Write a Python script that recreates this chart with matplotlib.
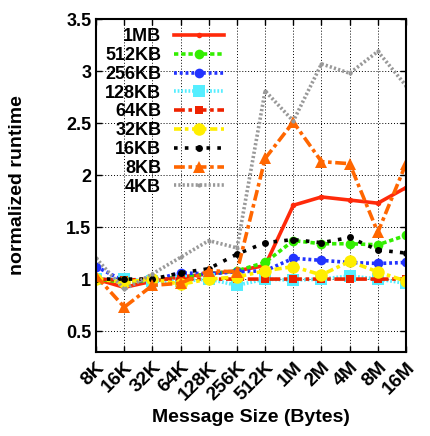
import matplotlib
matplotlib.use("Agg")
import matplotlib.pyplot as plt

plt.rcParams['font.family'] = ['Liberation Sans', 'DejaVu Sans']
plt.rcParams['font.weight'] = 'bold'

# === data ===
sizes = ["8K", "16K", "32K", "64K", "128K", "256K", "512K", "1M", "2M", "4M", "8M", "16M"]

mb1    = [1.00, 0.92, 0.98, 1.02, 1.05, 1.08, 1.13, 1.71, 1.79, 1.76, 1.73, 1.88]
kb512  = [1.00, 0.97, 0.99, 1.02, 1.05, 1.08, 1.16, 1.37, 1.34, 1.34, 1.33, 1.42]
kb256  = [1.12, 0.98, 0.99, 1.06, 1.05, 1.07, 1.08, 1.20, 1.18, 1.16, 1.15, 1.16]
kb128  = [1.00, 1.00, 0.98, 0.98, 1.00, 0.94, 1.00, 0.99, 1.00, 1.03, 1.00, 0.96]
kb64   = [1.00, 0.99, 1.00, 1.00, 1.00, 1.00, 1.00, 1.00, 1.00, 1.00, 1.00, 1.00]
kb32   = [1.00, 0.97, 1.00, 0.95, 1.00, 1.02, 1.08, 1.12, 1.04, 1.17, 1.07, 0.98]
kb16   = [1.00, 1.00, 1.00, 1.06, 1.10, 1.24, 1.35, 1.38, 1.35, 1.40, 1.28, 1.25]
kb8    = [1.03, 0.73, 0.94, 0.96, 1.08, 1.07, 2.16, 2.51, 2.13, 2.11, 1.45, 2.11]
kb4    = [1.20, 0.90, 1.05, 1.21, 1.37, 1.30, 2.81, 2.52, 3.07, 2.98, 3.19, 2.86]

series = [
    ("1MB",   mb1,   dict(color="#ff2a0a", ls="-",                 marker="o", ms=4)),
    ("512KB", kb512, dict(color="#33ee00", ls=(0, (1.2, 0.8)),     marker="o", ms=7)),
    ("256KB", kb256, dict(color="#2233ff", ls=(0, (0.8, 0.8)),     marker="o", ms=7)),
    ("128KB", kb128, dict(color="#55eeff", ls=(0, (0.5, 0.5)),     marker="s", ms=8)),
    ("64KB",  kb64,  dict(color="#ee2200", ls=(0, (3, 1, 1, 1)),   marker="s", ms=6)),
    ("32KB",  kb32,  dict(color="#ffee00", ls=(0, (2, 1, 1, 1)),   marker="o", ms=9)),
    ("16KB",  kb16,  dict(color="#000000", ls=(0, (1, 2)),         marker="o", ms=5)),
    ("8KB",   kb8,   dict(color="#ff6600", ls=(0, (3, 1, 1, 1)),   marker="^", ms=9)),
    ("4KB",   kb4,   dict(color="#999999", ls=(0, (0.6, 0.6)),     marker="o", ms=3)),
]

fig = plt.figure(figsize=(4.31, 4.36), dpi=100)
ax = fig.add_axes([0.223, 0.193, 0.719, 0.763])

x = list(range(len(sizes)))
for label, vals, st in series:
    ax.plot(x, vals, label=label, lw=2.6, color=st["color"], linestyle=st["ls"],
            marker=st["marker"], markersize=st["ms"], markeredgewidth=0)

ax.set_xlim(0, len(sizes) - 1)
ax.set_ylim(0.3, 3.5)
ax.set_xticks(x)
ax.set_xticklabels(sizes, rotation=45, ha="right", rotation_mode="anchor", fontsize=14)
ax.set_yticks([0.5, 1, 1.5, 2, 2.5, 3, 3.5])
ax.set_yticklabels(["0.5", "1", "1.5", "2", "2.5", "3", "3.5"], fontsize=13)
ax.tick_params(direction="in", top=True, right=True, length=4, width=1)
ax.tick_params(axis="x", pad=5)
ax.grid(True, color="black", linestyle=(0, (1, 2)), linewidth=0.7)
for sp in ax.spines.values():
    sp.set_linewidth(1.5)

# axis titles placed in figure pixels like the original
fig.text(251 / 431, 1 - 417 / 436, "Message Size (Bytes)", fontsize=14,
         fontweight="bold", ha="center", va="center")
fig.text(18 / 431, 1 - 185 / 436, "normalized runtime", fontsize=14,
         fontweight="bold", ha="center", va="center", rotation=90)

leg = ax.legend(loc="upper left", markerfirst=False, frameon=False, fontsize=13,
                handlelength=2.8, labelspacing=0.1, borderaxespad=0.1,
                handletextpad=0.7, bbox_to_anchor=(0.0, 1.0))

fig.savefig("out.png", dpi=100)
plt.close(fig)
